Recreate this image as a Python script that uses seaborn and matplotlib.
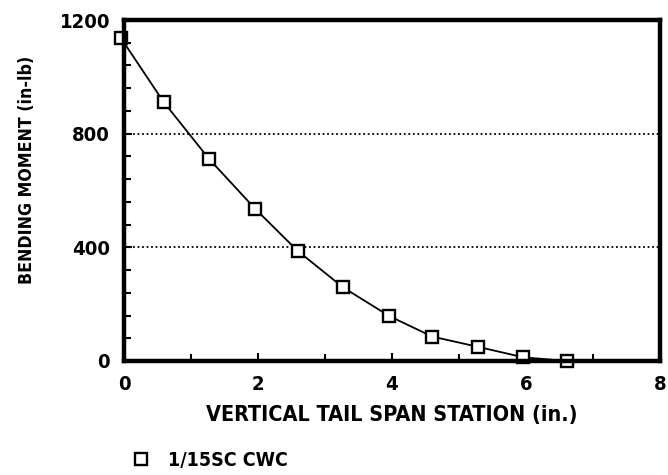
import matplotlib
matplotlib.use("Agg")
import matplotlib.pyplot as plt
import seaborn as sns
import pandas as pd
from matplotlib.ticker import MultipleLocator

# Bending moment along the vertical tail span
span_station = [-0.05, 0.59, 1.27, 1.96, 2.59, 3.27, 3.96, 4.60, 5.28, 5.96, 6.61]
bending_moment = [1138, 912, 711, 535, 388, 259, 158, 86, 50, 13, 0]
series_name = "1/15SC CWC"
x_ticks = [0, 2, 4, 6, 8]
y_ticks = [0, 400, 800, 1200]

df = pd.DataFrame({"station": span_station, "moment": bending_moment, "model": series_name})

sns.set_style("white")
plt.rcParams["font.family"] = ["DejaVu Sans"]
plt.rcParams["font.stretch"] = "condensed"
plt.rcParams["font.weight"] = "bold"
plt.rcParams["axes.labelweight"] = "bold"
plt.rcParams["text.color"] = "black"
plt.rcParams["axes.labelcolor"] = "black"
plt.rcParams["xtick.color"] = "black"
plt.rcParams["ytick.color"] = "black"

fig = plt.figure(figsize=(6.68, 4.75), dpi=100)
ax = fig.add_axes([124 / 668, 1 - 361 / 475, (660 - 124) / 668, (361 - 20) / 475])

sns.lineplot(data=df, x="station", y="moment", ax=ax, color="black", lw=1.3,
             marker="s", markersize=9, markerfacecolor="white",
             markeredgecolor="black", markeredgewidth=1.7, legend=False)
for line in ax.lines:
    line.set_clip_on(False)

ax.set_xlim(0, 8)
ax.set_ylim(0, 1200)
ax.set_xticks(x_ticks)
ax.set_yticks(y_ticks)
ax.xaxis.set_minor_locator(MultipleLocator(1))
ax.yaxis.set_minor_locator(MultipleLocator(80))
ax.tick_params(which="both", direction="in", width=1.5, labelsize=14.5, pad=10,
               left=True, bottom=True)
ax.tick_params(which="major", length=6)
ax.tick_params(which="minor", length=5)

for y in (400, 800):
    ax.axhline(y, color="black", lw=1.3, ls=(0, (1, 1.5)), zorder=0)

for s in ax.spines.values():
    s.set_linewidth(3.2)
    s.set_color("black")

ax.set_xlabel("VERTICAL TAIL SPAN STATION (in.)", fontsize=15.5, labelpad=8)
ax.set_ylabel("BENDING MOMENT (in-lb)", fontsize=12.7, labelpad=14)
ax.yaxis.set_label_coords(-0.164, 0.56)

handle = plt.Line2D([], [], ls="none", marker="s", markersize=9,
                    markerfacecolor="white", markeredgecolor="black", markeredgewidth=1.7)
fig.legend([handle], [series_name], loc="center left",
           bbox_to_anchor=(114 / 668, 1 - 460 / 475), frameon=False,
           prop={"size": 14, "weight": "bold", "stretch": "condensed"},
           handletextpad=0.9, handlelength=1.0)

fig.savefig("out.png", dpi=100)
